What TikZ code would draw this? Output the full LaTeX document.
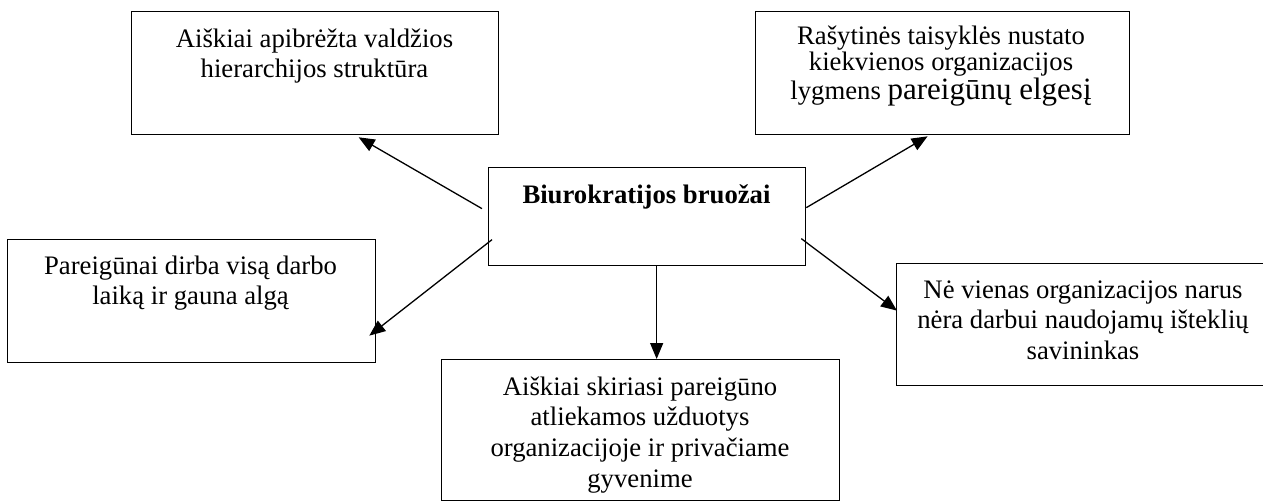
\documentclass[tikz,border=0pt]{standalone}
\usepackage{fontspec}
\setmainfont{Liberation Serif}
\usetikzlibrary{arrows.meta}
\tikzset{
  box/.style={draw, line width=1.3pt, inner sep=0pt, anchor=north west},
  txt/.style={anchor=base, inner sep=0pt},
  arr/.style={line width=1.3pt, -{Triangle[length=16pt,width=13pt]}},
}
\newcommand{\boxtext}[2]{\parbox[t]{#1}{\fontsize{26.7}{30.7}\selectfont\centering #2}}
\begin{document}
\begin{tikzpicture}[x=1pt,y=-1pt]
\useasboundingbox (0,0) rectangle (1263,501);
\clip (0,0) rectangle (1263,501);
% boxes
\node[box, minimum width=367pt, minimum height=123pt] (A) at (131,11) {};
\node[box, minimum width=374pt, minimum height=123pt] (B) at (755,11) {};
\node[box, minimum width=317pt, minimum height=98pt]  (C) at (488,167) {};
\node[box, minimum width=368pt, minimum height=123pt] (D) at (7,239) {};
\node[box, minimum width=374pt, minimum height=122pt] (E) at (896,263) {};
\node[box, minimum width=398pt, minimum height=141pt] (F) at (441,359) {};
% texts
\node[txt] (tA) at (314.5,47) {\boxtext{360pt}{Aiškiai apibrėžta valdžios\\hierarchijos struktūra}};
\node[txt] (tB) at (941,44) {\parbox[t]{370pt}{\fontsize{26.7}{26}\selectfont\lineskiplimit=-100pt\centering Rašytinės taisyklės nustato\\kiekvienos organizacijos\\[3pt]lygmens {\fontsize{31}{26}\selectfont pareigūnų elgesį}}};
\node[txt] (tC) at (646.5,203) {\fontsize{26.7}{30.7}\selectfont\bfseries Biurokratijos bruožai};
\node[txt] (tD) at (190.5,274) {\boxtext{360pt}{Pareigūnai dirba visą darbo\\laiką ir gauna algą}};
\node[txt] (tE) at (1083,298) {\boxtext{370pt}{Nė vienas organizacijos narus\\nėra darbui naudojamų išteklių\\savininkas}};
\node[txt] (tF) at (640,395) {\boxtext{390pt}{Aiškiai skiriasi pareigūno\\atliekamos užduotys\\organizacijoje ir privačiame\\gyvenime}};
% arrows
\draw[arr] ([shift={(-6,-8)}]C.west) -- ([shift={(43.5,2)}]A.south);
\draw[arr] ([shift={(0,-9)}]C.east) -- ([shift={(-15,1)}]B.south);
\draw[arr] ([shift={(4,23)}]C.west) -- ([shift={(-7,34.5)}]D.east);
\draw[arr] ([shift={(-5,22)}]C.east) -- ([shift={(1,-14)}]E.west);
\draw[arr] ([xshift=9.5pt]C.south) -- ([xshift=9.5pt]C.south |- F.north);
\end{tikzpicture}
\end{document}
